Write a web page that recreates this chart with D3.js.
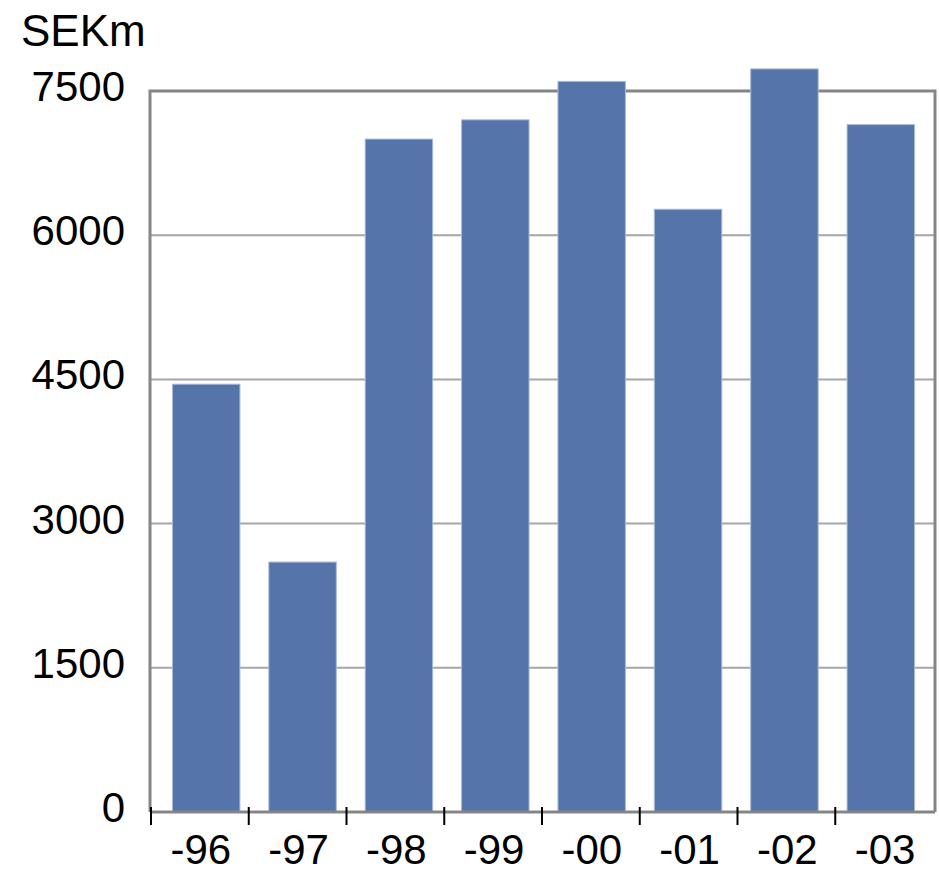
<!DOCTYPE html>
<html>
<head>
<meta charset="utf-8">
<script src="https://cdn.jsdelivr.net/npm/d3@7"></script>
<style>
  body { margin: 0; background: #fff; }
  text { font-family: "Liberation Sans", Arial, sans-serif; fill: #000; }
</style>
</head>
<body>
<div id="chart"></div>
<script>
// data
var years = ["-96", "-97", "-98", "-99", "-00", "-01", "-02", "-03"];
var values = [4450, 2600, 7000, 7200, 7600, 6270, 7730, 7150];
var yTicks = [0, 1500, 3000, 4500, 6000, 7500];

var svgWidth = 939;
var svgHeight = 872;

var margin = { top: 91, right: 4, bottom: 60, left: 150 };
var width = svgWidth - margin.left - margin.right;
var height = svgHeight - margin.top - margin.bottom;

var svg = d3.select("#chart")
    .append("svg")
    .attr("width", svgWidth)
    .attr("height", svgHeight);

var chartGroup = svg.append("g")
    .attr("transform", `translate(${margin.left}, ${margin.top})`);

// category scale for ticks and labels
var xScale = d3.scaleBand()
    .domain(years)
    .range([1, 783]);

// bars sit a bit tighter than the category slots
var barScale = d3.scaleBand()
    .domain(years)
    .range([8, 779])
    .paddingInner(0.3)
    .paddingOuter(0.15);

var yScale = d3.scaleLinear()
    .domain([0, 7500])
    .range([height, 0]);

// gridlines
chartGroup.selectAll(".grid")
    .data(yTicks.filter(d => d > 0 && d < 7500))
    .enter()
    .append("line")
    .attr("x1", 0)
    .attr("x2", width)
    .attr("y1", d => yScale(d))
    .attr("y2", d => yScale(d))
    .attr("stroke", "#a6a6a6")
    .attr("stroke-width", 2);

// frame (left, top, right)
chartGroup.append("path")
    .attr("d", `M0,${height} V0 H${width} V${height}`)
    .attr("fill", "none")
    .attr("stroke", "#858585")
    .attr("stroke-width", 3);

// bars
chartGroup.selectAll("rect")
    .data(values)
    .enter()
    .append("rect")
    .attr("x", (d, i) => barScale(years[i]))
    .attr("y", d => yScale(d))
    .attr("width", barScale.bandwidth())
    .attr("height", d => height - yScale(d))
    .attr("fill", "#5574aa")
    .attr("stroke", "#a9b9da")
    .attr("stroke-width", 1);

// bottom axis line
chartGroup.append("line")
    .attr("x1", 0)
    .attr("x2", width)
    .attr("y1", height)
    .attr("y2", height)
    .attr("stroke", "#858585")
    .attr("stroke-width", 3);

// tick marks at slot boundaries
chartGroup.selectAll(".tick")
    .data(years)
    .enter()
    .append("line")
    .attr("x1", d => xScale(d))
    .attr("x2", d => xScale(d))
    .attr("y1", height - 5)
    .attr("y2", height + 13)
    .attr("stroke", "#000")
    .attr("stroke-width", 2);

// x labels
chartGroup.selectAll(".xlab")
    .data(years)
    .enter()
    .append("text")
    .attr("x", d => xScale(d) + xScale.bandwidth() / 2 + 1)
    .attr("y", height + 52)
    .attr("text-anchor", "middle")
    .style("font-size", "42px")
    .text(d => d);

// y labels
chartGroup.selectAll(".ylab")
    .data(yTicks)
    .enter()
    .append("text")
    .attr("x", -25)
    .attr("y", d => yScale(d) + 10)
    .attr("text-anchor", "end")
    .style("font-size", "42px")
    .text(d => d);

// unit
svg.append("text")
    .attr("x", 21)
    .attr("y", 46)
    .style("font-size", "44px")
    .text("SEKm");
</script>
</body>
</html>
